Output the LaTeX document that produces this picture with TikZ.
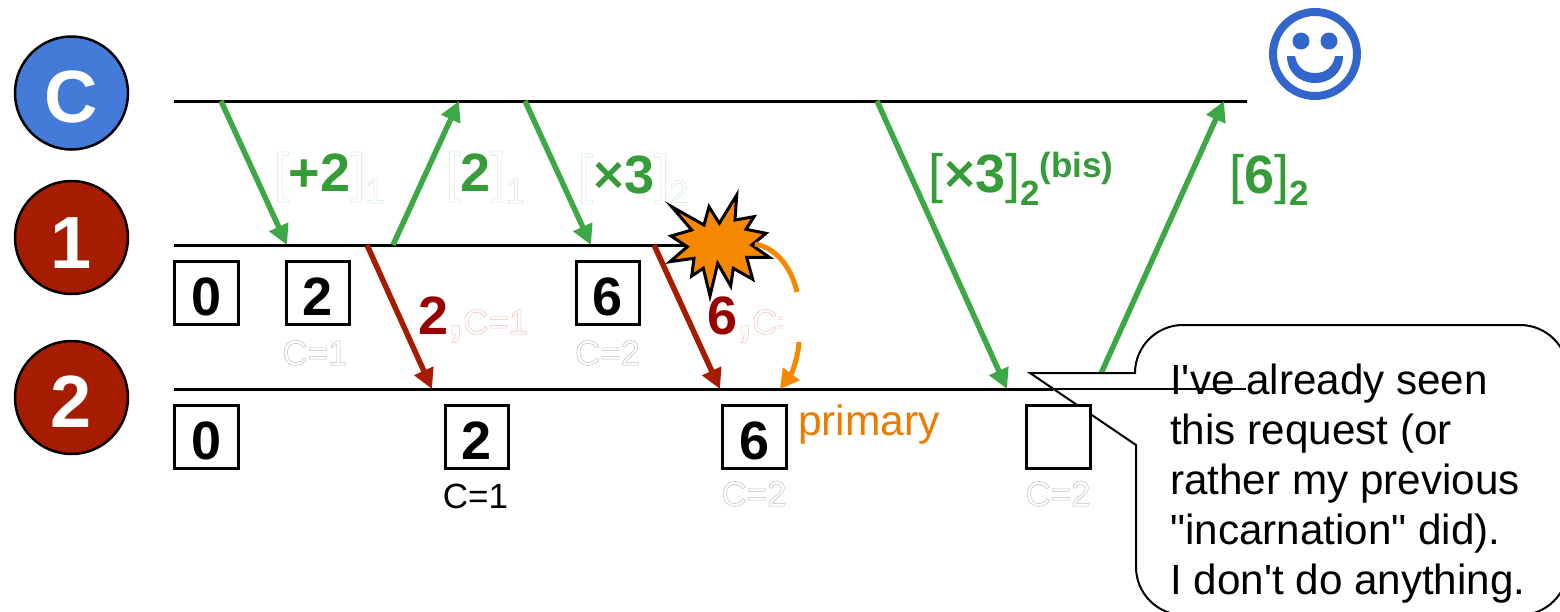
\documentclass[tikz,border=0pt]{standalone}
\usepackage{fontspec}
\usetikzlibrary{arrows.meta}
\newfontfamily\arial{Liberation Sans}
\definecolor{arrowgreen}{HTML}{3DA846}
\definecolor{textgreen}{HTML}{359C38}
\definecolor{arrowred}{HTML}{A61C00}
\definecolor{textred}{HTML}{990000}
\definecolor{circlered}{HTML}{A61C00}
\definecolor{circleblue}{HTML}{447BD8}
\definecolor{smileblue}{HTML}{3366CC}
\definecolor{burst}{HTML}{F58800}
\definecolor{primaryorange}{HTML}{EE7A00}
\newcommand{\outl}[2]{\special{pdf:code q 1 Tr 0.5 w #1 RG}#2\special{pdf:code Q}}
\newcommand{\ogray}[1]{\outl{0.74 0.74 0.74}{#1}}
\newcommand{\ogreen}[1]{\outl{0.80 0.91 0.80}{#1}}
\newcommand{\ored}[1]{\outl{0.94 0.74 0.70}{#1}}
\newcommand{\thkx}{\special{pdf:code q 2 Tr 1.4 w 0.208 0.612 0.22 RG}×\special{pdf:code Q}}
\newcommand{\bigbf}{\fontsize{54}{60}\selectfont\bfseries}
\newcommand{\bigrg}{\fontsize{54}{60}\selectfont\mdseries}
\newcommand{\smallf}{\fontsize{35}{40}\selectfont\mdseries}
\newcommand{\sbf}{\fontsize{35}{40}\selectfont\bfseries}
\tikzset{
  every node/.style={inner sep=0pt,font=\arial},
  timeline/.style={line width=3pt,black},
  msggreen/.style={line width=5.5pt,arrowgreen,-{Triangle[length=20pt,width=20pt]}},
  msgred/.style={line width=5.5pt,arrowred,-{Triangle[length=20pt,width=20pt]}},
  actor/.style={circle,draw=black,line width=2.5pt,minimum size=113pt},
  actortext/.style={anchor=base,text=white,font=\arial\fontsize{74}{80}\selectfont\bfseries},
  statebox/.style={draw=black,fill=white,line width=3pt,minimum size=63.5pt,text height=44pt,text depth=0pt,font=\arial\bigbf},
  lbl/.style={anchor=base west,font=\arial},
  bubble/.style={draw=black,fill=white,line width=2pt},
}
\begin{document}
\begin{tikzpicture}[x=1pt,y=-1pt]
\useasboundingbox (0,0) rectangle (1560,611);
\clip (0,0) rectangle (1560,611);
% coordinates
\coordinate (cL) at (174,101); \coordinate (cR) at (1247,101);
\coordinate (aL) at (174,245); \coordinate (aR) at (700,245);
\coordinate (bL) at (174,389); \coordinate (bM) at (1053,389); \coordinate (bR) at (1246,389);
\coordinate (g1s) at (221,101); \coordinate (g1e) at (287,245);
\coordinate (g2s) at (393,245); \coordinate (g2e) at (459,101);
\coordinate (g3s) at (525,101); \coordinate (g3e) at (591,245);
\coordinate (g4s) at (877,101); \coordinate (g4e) at (1007,389);
\coordinate (g5s) at (1094,389); \coordinate (g5e) at (1224,101);
\coordinate (r1s) at (367,245); \coordinate (r1e) at (432,389);
\coordinate (r2s) at (654,245); \coordinate (r2e) at (720,389);
% actors
\node[actor,fill=circleblue] (nC) at (71.5,93) {};
\node[actor,fill=circlered] (n1) at (71.5,237.5) {};
\node[actor,fill=circlered] (n2) at (71.5,397.5) {};
\node[actortext] (tC) at (71.5,122) {C};
\node[actortext] (t1) at (71.5,268) {1};
\node[actortext] (t2) at (71.5,427) {2};
% smiley
\draw[smileblue,line width=8pt] (1315,54) circle[radius=42];
\fill[smileblue] (1301,41) circle[radius=8.5];
\fill[smileblue] (1329,41) circle[radius=8.5];
\fill[smileblue] (1287,56) .. controls (1287,72) and (1299,83) .. (1315,83)
  .. controls (1331,83) and (1343,72) .. (1343,56) -- (1335,56)
  .. controls (1333,67) and (1326,73) .. (1315,73)
  .. controls (1304,73) and (1297,67) .. (1295,56) -- cycle;
% timelines
\draw[timeline] (cL) -- (cR);
\draw[timeline] (aL) -- (aR);
% messages
\draw[msggreen] (g1s) -- (g1e);
\draw[msggreen] (g2s) -- (g2e);
\draw[msggreen] (g3s) -- (g3e);
\draw[msggreen] (g4s) -- (g4e);
\draw[msggreen] (g5s) -- (g5e);
\draw[msgred] (r1s) -- (r1e);
\draw[msgred] (r2s) -- (r2e);
% line 2, thick part
\draw[timeline] (bL) -- (bM);
% callout
\draw[bubble,line join=miter] (1030,373) -- (1135,373)
  .. controls (1135,346.5) and (1156.5,325) .. (1183,325) -- (1520,325)
  .. controls (1546.5,325) and (1568,346.5) .. (1568,373) -- (1568,567)
  .. controls (1568,593.5) and (1546.5,615) .. (1520,615) -- (1184,615)
  .. controls (1157.5,615) and (1136,593.5) .. (1136,567) -- (1136,445) -- cycle;
\draw[line width=1.6pt,black] (bM) -- (bR);
\node[lbl,align=left,anchor=base west,font=\arial\fontsize{42.2}{50}\selectfont] (say) at (1170,594)
 {I've already seen\\this request (or\\rather my previous\\"incarnation" did).\\I don't do anything.};
% state boxes
\node[statebox] (s10) at (206.3,293.2) {0};
\node[statebox] (s12) at (318,293.2) {2};
\node[statebox] (s16) at (607.8,293.2) {6};
\node[statebox] (s20) at (206.3,437.2) {0};
\node[statebox] (s22) at (477,437.2) {2};
\node[statebox] (s26) at (754.5,437.2) {6};
\node[statebox] (s2x) at (1058.4,437.2) {};
% client tags
\node[lbl,anchor=base] (c1) at (315,365) {\smallf\ogray{C=1}};
\node[lbl,anchor=base] (c2) at (607.5,365) {\smallf\ogray{C=2}};
\node[lbl,anchor=base] (c3) at (754,506) {\smallf\ogray{C=2}};
\node[lbl,anchor=base] (c4) at (1058,506) {\smallf\ogray{C=2}};
\node[lbl,anchor=base] (c5) at (475.5,508) {\smallf C=1};
% request / reply labels
\node[lbl,text=textgreen] (l1) at (273.5,191) {\bigrg\ogreen{[}\bigbf +2\bigrg\ogreen{]}\raisebox{-12pt}{\smallf\ogreen{1}}};
\node[lbl,text=textgreen] (l2) at (445.5,191) {\bigrg\ogreen{[}\bigbf 2\bigrg\ogreen{]}\raisebox{-12pt}{\smallf\ogreen{1}}};
\node[lbl,text=textgreen] (l3) at (577.5,193) {\bigrg\ogreen{[}\thkx\bigbf 3\bigrg\ogreen{]}\raisebox{-12pt}{\smallf\ogreen{2}}};
\node[lbl,text=textgreen] (l4) at (928.5,192) {\bigrg[\thkx\bigbf 3\bigrg]\raisebox{-13pt}{\sbf 2}\raisebox{15pt}{\sbf (bis)}};
\node[lbl,text=textgreen] (l5) at (1229.5,193) {\bigrg[\bigbf 6\bigrg]\raisebox{-12pt}{\sbf 2}};
\node[lbl,text=textred] (l6) at (418,334) {\bigbf 2\ored{,}\smallf\ored{C=1}};
\node[lbl,text=textred] (l7) at (707,334) {\bigbf 6\ored{,}\smallf\ored{C=1}};
\node[lbl,text=primaryorange,font=\arial\fontsize{42.5}{48}\selectfont] (prim) at (798,435) {primary};
% crash
\fill[white] (783,292) rectangle (830,342);
\draw[black,fill=burst,line width=3pt,miter limit=10]
 (736.7,195) -- (735,220) -- (754,216.7) -- (746,229.3) -- (766,233.3) -- (751.7,245)
 -- (769.3,257.3) -- (746.7,257.3) -- (752.7,279.3) -- (733.3,268.3) -- (730.7,286)
 -- (717.7,263.3) -- (710,296) -- (703.3,268.3) -- (691.7,276) -- (694,258.3)
 -- (670,261.7) -- (687.3,246.7) -- (671,236) -- (691.7,230) -- (671.7,206.7)
 -- (704,225) -- (709,206.7) -- (719.3,223.3) -- cycle;
\draw[line width=5pt,burst] (755,244) .. controls (778,248) and (792,270) .. (797,292);
\draw[line width=5pt,burst,-{Triangle[length=19pt,width=20pt]}]
  (799,342) .. controls (798,358) and (792,373) .. (780,389);
\end{tikzpicture}
\end{document}
